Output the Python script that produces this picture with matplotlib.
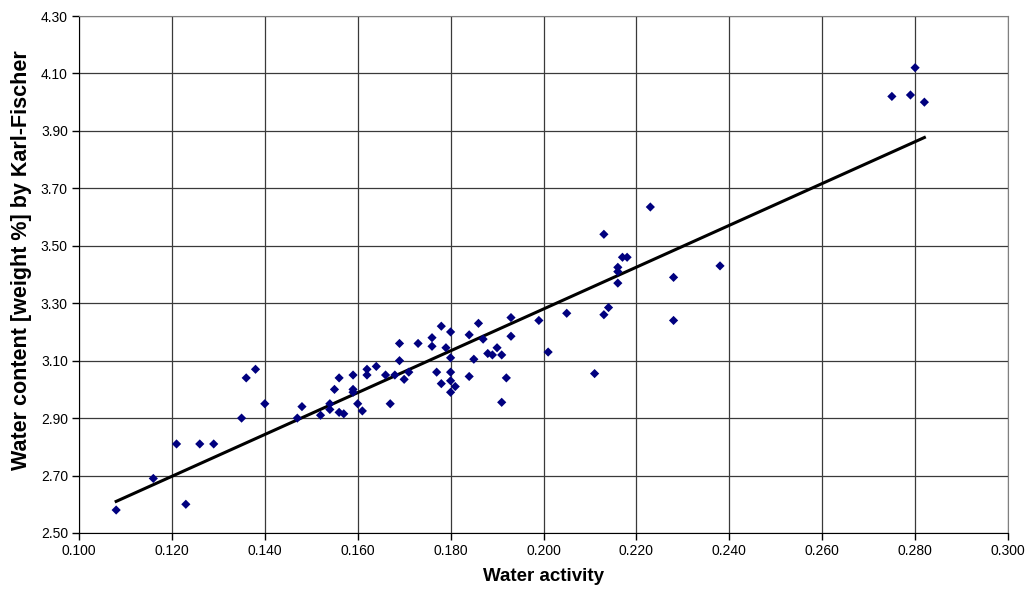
import numpy as np
import matplotlib.pyplot as plt
from matplotlib.ticker import FormatStrFormatter

# water activity (x) and Karl-Fischer water content (y)
water_activity = [0.108, 0.116, 0.123, 0.121, 0.126, 0.129, 0.135, 0.136, 0.138, 0.140,
                  0.147, 0.148, 0.152, 0.154, 0.154, 0.155, 0.156, 0.156, 0.157, 0.159,
                  0.159, 0.159, 0.160, 0.161, 0.162, 0.162, 0.164, 0.166, 0.167, 0.168,
                  0.169, 0.169, 0.170, 0.171, 0.173, 0.176, 0.176, 0.177, 0.178, 0.178,
                  0.179, 0.180, 0.180, 0.180, 0.180, 0.180, 0.181, 0.184, 0.184, 0.185,
                  0.186, 0.187, 0.188, 0.189, 0.190, 0.191, 0.191, 0.192, 0.193, 0.193,
                  0.199, 0.201, 0.205, 0.211, 0.213, 0.213, 0.214, 0.216, 0.216, 0.216,
                  0.217, 0.218, 0.223, 0.228, 0.228, 0.238, 0.275, 0.279, 0.280, 0.282]
water_content = [2.58, 2.69, 2.60, 2.81, 2.81, 2.81, 2.90, 3.04, 3.07, 2.95,
                 2.90, 2.94, 2.91, 2.95, 2.93, 3.00, 3.04, 2.92, 2.915, 3.05,
                 3.00, 2.99, 2.95, 2.925, 3.07, 3.05, 3.08, 3.05, 2.95, 3.05,
                 3.16, 3.10, 3.035, 3.06, 3.16, 3.18, 3.15, 3.06, 3.22, 3.02,
                 3.145, 3.20, 3.11, 3.06, 3.03, 2.99, 3.01, 3.19, 3.045, 3.105,
                 3.23, 3.175, 3.125, 3.12, 3.145, 3.12, 2.955, 3.04, 3.25, 3.185,
                 3.24, 3.13, 3.265, 3.055, 3.54, 3.26, 3.285, 3.37, 3.41, 3.425,
                 3.46, 3.46, 3.635, 3.39, 3.24, 3.43, 4.02, 4.025, 4.12, 4.00]

# linear trendline end points
trend_x = [0.108, 0.282]
trend_y = [2.61, 3.877]

x_ticks = np.arange(0.100, 0.3001, 0.020)
y_ticks = np.arange(2.50, 4.3001, 0.20)

plt.rcParams['font.family'] = ['Liberation Sans', 'DejaVu Sans']

fig = plt.figure(figsize=(10.29, 5.94), dpi=100)
ax = fig.add_axes([79 / 1029, 1 - 533 / 594, 929 / 1029, 517 / 594])

ax.plot(trend_x, trend_y, color='black', lw=2.2, zorder=3)
ax.scatter(water_activity, water_content, marker='D', s=22, color='#00007f',
           edgecolors='none', zorder=4)

ax.set_xlim(0.100, 0.300)
ax.set_ylim(2.50, 4.30)
ax.set_xticks(x_ticks)
ax.set_yticks(y_ticks)
ax.xaxis.set_major_formatter(FormatStrFormatter('%.3f'))
ax.yaxis.set_major_formatter(FormatStrFormatter('%.2f'))
ax.tick_params(direction='out', length=5, width=1, labelsize=10, pad=3)

ax.grid(True, color='#3a3a3a', lw=0.9)
ax.set_axisbelow(True)
for side in ['top', 'right']:
    ax.spines[side].set_color('#808080')
for side in ['left', 'bottom']:
    ax.spines[side].set_color('black')

ax.set_xlabel('Water activity', fontsize=13.5, fontweight='bold', labelpad=7)
ax.set_ylabel('Water content [weight %] by Karl-Fischer', fontsize=15.5,
              fontweight='bold')
ax.yaxis.set_label_coords(-0.0506, 0.527)

fig.savefig('out.png', dpi=100)
